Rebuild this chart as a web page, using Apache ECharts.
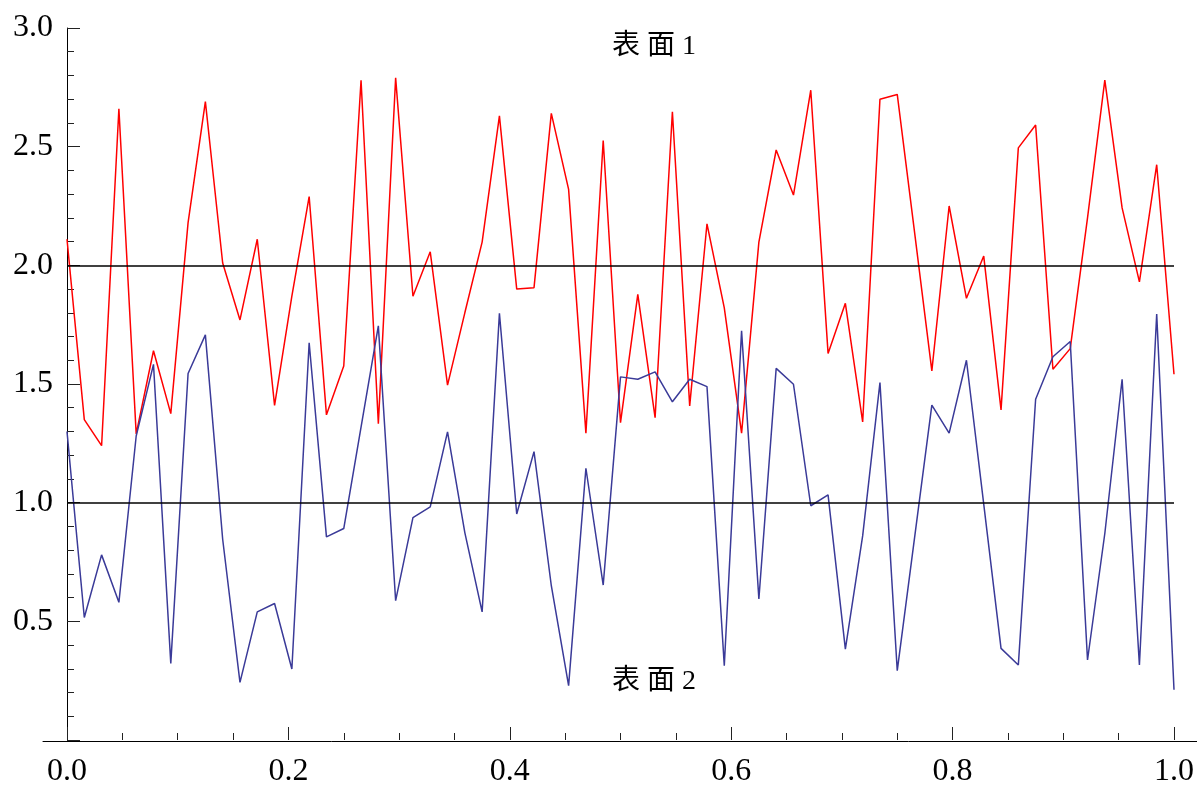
<!DOCTYPE html>
<html>
<head>
<meta charset="utf-8">
<script src="https://cdn.jsdelivr.net/npm/echarts@6/dist/echarts.min.js"></script>
<style>
html,body{margin:0;padding:0;background:#fff;}
#chart{width:1197px;height:788px;}
</style>
</head>
<body>
<div id="chart"></div>
<script>
// x positions: 65 samples from 0 to 1
const xCount = 65;
const surface1 = [2.11,1.35,1.24,2.66,1.29,1.64,1.375,2.18,2.69,2.01,1.77,2.11,1.41,1.87,2.29,1.37,
  1.576,2.78,1.333,2.79,1.87,2.057,1.495,1.8,2.098,2.63,1.9,1.906,2.64,2.32,1.293,2.526,
  1.337,1.878,1.358,2.647,1.408,2.175,1.821,1.293,2.098,2.486,2.296,2.738,1.629,1.84,1.34,2.70,
  2.72,2.14,1.555,2.25,1.861,2.039,1.391,2.495,2.591,1.562,1.649,2.2,2.78,2.242,1.93,2.424,1.541];
const surface2 = [1.3,0.516,0.78,0.58,1.281,1.583,0.323,1.544,1.707,0.846,0.243,0.54,0.575,0.299,1.674,0.856,
  0.891,1.318,1.745,0.587,0.937,0.982,1.298,0.874,0.54,1.798,0.952,1.215,0.65,0.229,1.145,0.653,
  1.53,1.52,1.551,1.425,1.52,1.489,0.313,1.724,0.594,1.566,1.499,0.987,1.033,0.383,0.86,1.506,
  0.292,0.852,1.411,1.293,1.6,0.994,0.386,0.316,1.436,1.615,1.679,0.337,0.87,1.52,0.316,1.795,0.212];
const refLevels = [1, 2];
const labels = ['表 面 1', '表 面 2'];
const xTicks = { min: 0, max: 1, interval: 0.2 };
const yTicks = { min: 0, max: 3, interval: 0.5 };

const xs = surface1.map((_, i) => i / (xCount - 1));
const s1 = surface1.map((v, i) => [xs[i], v]);
const s2 = surface2.map((v, i) => [xs[i], v]);

const serif = "'Liberation Serif','Times New Roman',serif";
const chart = echarts.init(document.getElementById('chart'), null, {renderer: 'canvas'});
const tickColor = '#222';
chart.setOption({
  animation: false,
  backgroundColor: '#fff',
  grid: [
    {left: 67, right: 22, top: 28, bottom: 47},
    {left: 43, right: 0, top: 28, bottom: 47}
  ],
  xAxis: [{
    type: 'value', gridIndex: 0, min: xTicks.min, max: xTicks.max, interval: xTicks.interval,
    axisLine: {show: false},
    axisTick: {show: true, inside: true, length: 13, lineStyle: {color: tickColor, width: 1}},
    minorTick: {show: true, splitNumber: 4, length: 7, lineStyle: {color: tickColor, width: 1}},
    axisLabel: {color: '#000', fontFamily: serif, fontSize: 32, margin: 16,
      formatter: v => v.toFixed(1)},
    splitLine: {show: false}
  }, {
    type: 'value', gridIndex: 1, min: 0, max: 1,
    axisLine: {show: true, lineStyle: {color: '#000', width: 1}},
    axisTick: {show: false}, axisLabel: {show: false}, splitLine: {show: false}
  }],
  yAxis: [{
    type: 'value', gridIndex: 0, min: yTicks.min, max: yTicks.max, interval: yTicks.interval,
    axisLine: {show: true, onZero: false, lineStyle: {color: '#000', width: 1}},
    axisTick: {show: true, inside: true, length: 13, lineStyle: {color: tickColor, width: 1}},
    minorTick: {show: true, splitNumber: 5, length: 7, lineStyle: {color: tickColor, width: 1}},
    axisLabel: {color: '#000', fontFamily: serif, fontSize: 32, margin: 14,
      formatter: v => v === 0 ? '' : v.toFixed(1)},
    splitLine: {show: false}
  }, {
    type: 'value', gridIndex: 1, show: false, min: 0, max: 3
  }],
  graphic: [
    {type: 'text', left: 612, top: 33, style: {text: labels[0], fill: '#000',
      font: "28px 'Liberation Serif','Noto Sans CJK SC'"}},
    {type: 'text', left: 612, top: 668, style: {text: labels[1], fill: '#000',
      font: "28px 'Liberation Serif','Noto Sans CJK SC'"}}
  ],
  series: [{
    type: 'line', xAxisIndex: 0, yAxisIndex: 0, data: s1, showSymbol: false,
    lineStyle: {color: '#ff0000', width: 1.5}, z: 3,
    markLine: {silent: true, symbol: 'none', label: {show: false},
      lineStyle: {color: '#000', width: 1.5, type: 'solid'},
      data: refLevels.map(v => ({yAxis: v}))}
  }, {
    type: 'line', xAxisIndex: 0, yAxisIndex: 0, data: s2, showSymbol: false,
    lineStyle: {color: '#3a3a98', width: 1.5}, z: 3
  }]
});
</script>
</body>
</html>
